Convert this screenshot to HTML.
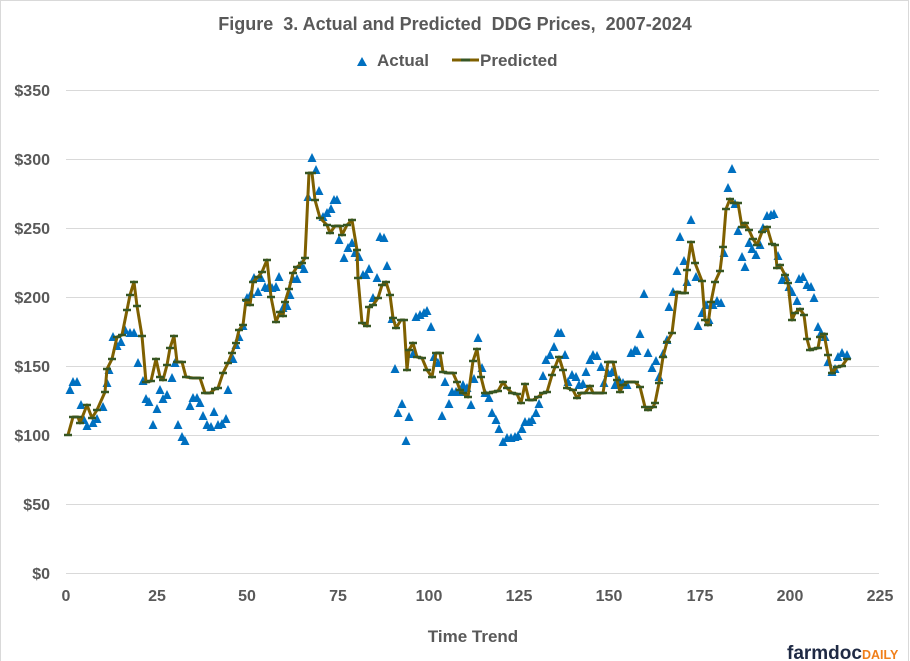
<!DOCTYPE html>
<html><head><meta charset="utf-8"><style>
body{margin:0;background:#fff;}
svg{display:block;font-family:"Liberation Sans",Arial,sans-serif;}
</style></head><body>
<svg id="s" width="910" height="661" viewBox="0 0 910 661" xmlns="http://www.w3.org/2000/svg">
<rect width="910" height="661" fill="#fff"/>
<rect x="0.5" y="0.5" width="908" height="670" fill="none" stroke="#d9d9d9" stroke-width="1"/>
<g stroke="#d9d9d9" stroke-width="1">
<line x1="66" y1="90.5" x2="879" y2="90.5"/>
<line x1="66" y1="159.5" x2="879" y2="159.5"/>
<line x1="66" y1="228.5" x2="879" y2="228.5"/>
<line x1="66" y1="297.5" x2="879" y2="297.5"/>
<line x1="66" y1="366.5" x2="879" y2="366.5"/>
<line x1="66" y1="435.5" x2="879" y2="435.5"/>
<line x1="66" y1="504.5" x2="879" y2="504.5"/>
<line x1="66" y1="573.5" x2="879" y2="573.5"/>
</g>
<text x="455" y="30" text-anchor="middle" font-size="18" font-weight="bold" fill="#595959" xml:space="preserve">Figure  3. Actual and Predicted  DDG Prices,  2007-2024</text>
<polygon points="357,66 362,57 367,66" fill="#0070c0"/>
<text x="377" y="66" font-size="17" font-weight="bold" fill="#595959">Actual</text>
<line x1="452" y1="60" x2="479" y2="60" stroke="#7f6000" stroke-width="3"/>
<line x1="461" y1="60" x2="470" y2="60" stroke="#375623" stroke-width="3"/>
<text x="480" y="66" font-size="17" font-weight="bold" fill="#595959">Predicted</text>
<g font-size="16" font-weight="bold" fill="#595959" text-anchor="end">
<text x="50" y="96">$350</text><text x="50" y="165">$300</text><text x="50" y="234">$250</text>
<text x="50" y="303">$200</text><text x="50" y="372">$150</text><text x="50" y="441">$100</text>
<text x="50" y="510">$50</text><text x="50" y="579">$0</text>
</g>
<g font-size="16" font-weight="bold" fill="#595959" text-anchor="middle">
<text x="66" y="601">0</text><text x="157" y="601">25</text><text x="247" y="601">50</text>
<text x="338" y="601">75</text><text x="429" y="601">100</text><text x="519" y="601">125</text>
<text x="609" y="601">150</text><text x="700" y="601">175</text><text x="790" y="601">200</text>
<text x="880" y="601">225</text>
</g>
<text x="473" y="642" text-anchor="middle" font-size="17" font-weight="bold" fill="#595959">Time Trend</text>
<text x="787" y="659" font-size="19" font-weight="bold" fill="#1f2a44">farmdoc<tspan font-size="12.5" fill="#f07f1a">DAILY</tspan></text>
<g id="act" fill="#0070c0"></g>
<polyline id="pl" fill="none" stroke="#7f6000" stroke-width="3" stroke-linejoin="round"/>
<g id="mk" stroke="#375623" stroke-width="2.5"></g>
</svg>
<script>
var P=[68,435,73,417,78,417,80,423,87,405,92,418,97,410,105,392,107,369,112,359,117,337,122,335,127,310,130,295,134,282,137,306,142,336,146,382,151,381,156,359,160,377,163,380,167,365,170,348,174,336,177,362,182,362,186,377,193,378,200,378,205,393,210,393,215,389,218,388,223,373,228,363,232,353,236,343,239,330,243,325,246,300,250,305,253,282,258,277,262,272,267,260,271,297,276,322,280,312,283,316,285,302,289,289,293,273,297,267,302,263,305,258,309,173,312,173,315,200,320,218,327,225,330,233,335,226,340,226,342,235,347,225,352,220,357,250,358,278,362,323,367,326,369,307,373,305,378,298,382,285,386,282,390,295,393,318,396,328,401,320,404,320,407,370,409,350,413,343,417,357,422,358,427,370,432,377,436,353,440,353,443,372,448,373,453,373,457,382,460,390,463,393,468,397,473,361,477,349,481,377,485,393,489,393,493,392,498,391,503,382,507,388,512,393,517,394,521,403,525,384,529,400,533,400,538,397,543,393,547,392,552,375,555,367,559,357,563,370,567,388,573,390,577,398,581,393,585,393,590,386,593,393,598,393,603,393,608,362,613,362,617,380,620,392,623,385,628,382,635,382,640,387,645,407,648,410,653,407,655,403,659,383,663,357,667,342,672,333,677,292,682,293,685,293,687,270,691,242,695,263,702,281,705,320,708,325,711,302,715,282,720,271,723,247,726,209,730,199,734,203,738,203,742,227,745,223,749,230,753,239,757,245,762,232,767,227,772,244,775,245,777,268,780,265,785,275,788,283,792,320,795,313,800,309,804,315,807,339,810,350,813,349,818,348,820,337,824,334,828,355,832,373,837,367,842,366,847,359];
var A=[70,390,73,382,77,382,81,405,84,420,87,426,93,423,97,419,103,407,107,383,109,370,113,337,117,346,121,342,125,330,130,333,134,333,138,363,143,381,146,399,149,402,153,425,157,409,160,390,163,399,167,395,172,378,175,363,178,425,182,437,185,441,190,406,193,398,197,398,200,403,203,416,207,425,211,427,214,412,218,425,222,424,226,419,228,390,233,359,236,345,239,337,243,326,247,298,251,294,254,278,258,292,261,278,265,287,268,288,272,288,276,287,279,277,283,308,287,306,290,295,293,279,297,279,301,265,304,269,308,197,312,158,316,170,319,191,323,217,327,213,331,209,334,200,337,200,339,240,344,258,348,248,352,243,355,253,359,257,363,275,366,275,369,269,373,298,377,278,380,237,384,238,387,266,392,319,395,369,398,413,402,404,406,441,409,417,413,354,416,317,420,315,424,313,427,311,431,327,434,357,438,363,442,416,445,382,449,404,452,392,456,392,460,392,463,385,467,388,471,405,474,379,478,338,482,368,485,393,489,398,492,413,496,420,499,429,503,442,507,438,511,438,515,437,518,436,522,429,525,422,529,422,532,420,536,413,539,404,543,376,546,360,550,355,554,347,558,333,561,333,565,355,568,382,572,375,576,377,579,385,583,384,586,372,590,360,593,355,597,356,601,367,604,383,608,373,612,372,615,385,619,380,623,383,627,385,631,353,635,350,637,351,640,334,644,294,648,353,652,368,656,361,659,377,663,354,667,340,669,307,673,292,677,271,680,237,684,261,687,282,691,220,696,277,698,326,702,313,706,305,709,320,713,305,717,301,721,303,724,253,728,188,732,169,735,204,738,231,742,257,745,267,749,243,752,249,756,255,760,245,763,228,767,216,771,215,774,214,778,256,782,280,786,277,789,287,792,292,797,301,799,279,803,277,807,285,811,287,814,298,818,327,821,333,825,337,828,362,832,372,835,369,838,357,842,353,847,355];
var ns="http://www.w3.org/2000/svg";
var pts=[];for(var i=0;i<P.length;i+=2)pts.push(P[i]+","+P[i+1]);
document.getElementById("pl").setAttribute("points",pts.join(" "));
var mk=document.getElementById("mk");
for(var i=0;i<P.length;i+=2){var l=document.createElementNS(ns,"line");l.setAttribute("x1",P[i]-4);l.setAttribute("x2",P[i]+4);l.setAttribute("y1",P[i+1]);l.setAttribute("y2",P[i+1]);mk.appendChild(l);}
var ac=document.getElementById("act");
for(var i=0;i<A.length;i+=2){var x=A[i],y=A[i+1];var p=document.createElementNS(ns,"polygon");p.setAttribute("points",(x-4.5)+","+(y+4)+" "+x+","+(y-5)+" "+(x+4.5)+","+(y+4));ac.appendChild(p);}
</script>
</body></html>
